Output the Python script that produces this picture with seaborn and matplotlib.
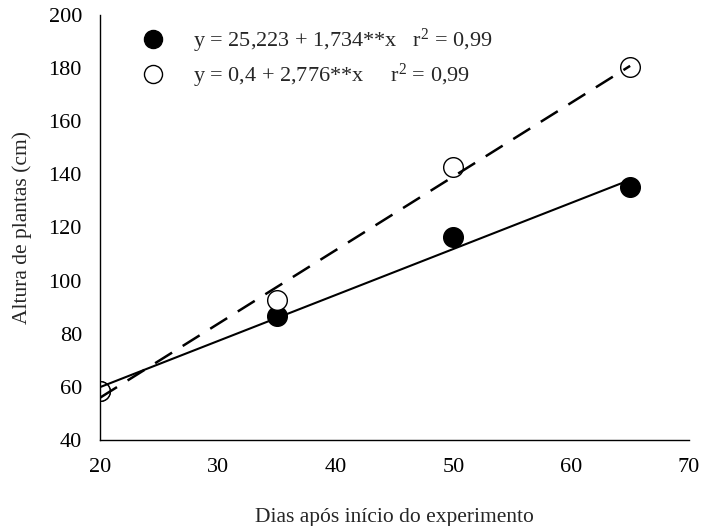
import matplotlib
matplotlib.use('Agg')
import matplotlib.pyplot as plt
import numpy as np
import pandas as pd
import seaborn as sns
from matplotlib.lines import Line2D

# Data
dias = [20, 35, 50, 65]
altura_1 = [58.4, 86.7, 116.4, 135.3]   # filled circles
altura_2 = [58.4, 92.7, 142.8, 180.4]   # open circles

# Regression equations shown in the legend
b0_1, b1_1 = 25.223, 1.734
b0_2, b1_2 = 0.4, 2.776

label_1 = 'y = 25,223 + 1,734**x   r$^{2}$ = 0,99'
label_2 = 'y = 0,4 + 2,776**x     r$^{2}$ = 0,99'

df = pd.DataFrame({'dias': dias, 'a1': altura_1, 'a2': altura_2})
xfit = np.array([min(dias), max(dias)])
fit = pd.DataFrame({'dias': xfit,
                    'f1': b0_1 + b1_1 * xfit,
                    'f2': b0_2 + b1_2 * xfit})

sns.set_style('white')
plt.rcParams['font.family'] = ['Liberation Serif', 'DejaVu Serif']
plt.rcParams['mathtext.fontset'] = 'custom'
plt.rcParams['mathtext.rm'] = 'Liberation Serif'
plt.rcParams['mathtext.it'] = 'Liberation Serif'

fig, ax = plt.subplots(figsize=(7.02, 5.26), dpi=100)
fig.subplots_adjust(left=0.1425, right=0.9815, top=0.9715, bottom=0.1635)

sns.scatterplot(data=df, x='dias', y='a1', ax=ax, s=200, color='black',
                edgecolor='black', linewidth=1, zorder=2)
sns.scatterplot(data=df, x='dias', y='a2', ax=ax, s=200, color='white',
                edgecolor='black', linewidth=1, zorder=2)
sns.lineplot(data=fit, x='dias', y='f1', ax=ax, color='black', lw=1.5, zorder=3)
sns.lineplot(data=fit, x='dias', y='f2', ax=ax, color='black', lw=1.8,
             dashes=(8, 5), zorder=3)

ax.set_xlim(20, 70)
ax.set_ylim(40, 200)
ax.set_xticks(range(20, 71, 10))
ax.set_yticks(range(40, 201, 20))
ax.set_xlabel('Dias após início do experimento', fontsize=15.5, labelpad=22)
ax.set_ylabel('Altura de plantas (cm)', fontsize=15.5, labelpad=12)
ax.tick_params(axis='both', direction='out', length=4, width=1,
               labelsize=16, pad=9, colors='black')
for side in ['top', 'right']:
    ax.spines[side].set_visible(False)
for side in ['left', 'bottom']:
    ax.spines[side].set_color('black')
    ax.spines[side].set_linewidth(1)

handles = [
    Line2D([], [], marker='o', ls='none', markersize=13,
           markerfacecolor='black', markeredgecolor='black'),
    Line2D([], [], marker='o', ls='none', markersize=13,
           markerfacecolor='white', markeredgecolor='black'),
]
ax.legend(handles, [label_1, label_2], loc='upper left',
          bbox_to_anchor=(0.018, 1.02), frameon=False, fontsize=16,
          handletextpad=0.8, labelspacing=0.3)

fig.savefig('out.png', dpi=100)
